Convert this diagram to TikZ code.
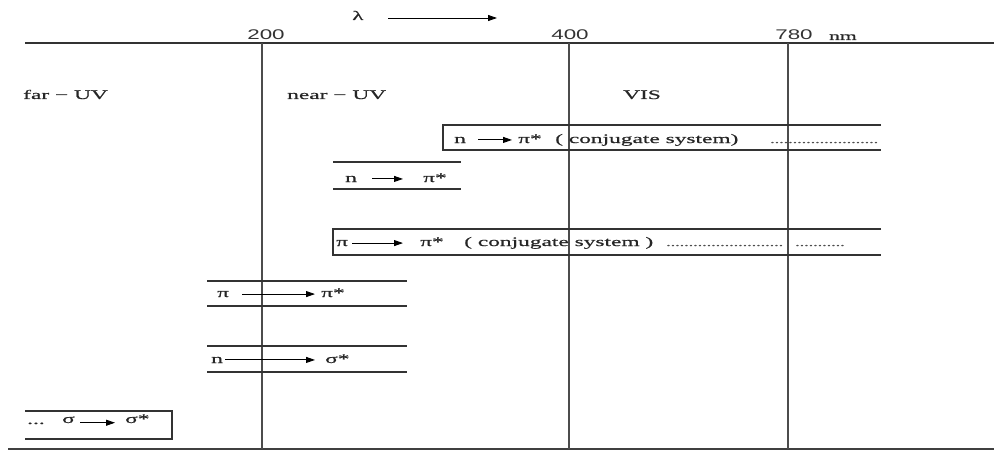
\documentclass[tikz,border=0pt]{standalone}
\usepackage{fontspec}
\setmainfont[FakeStretch=1.8,FakeBold=0.6]{Liberation Serif}
\newfontfamily\ticksans[FakeStretch=1.6]{Liberation Sans}
\usetikzlibrary{arrows.meta,positioning}

\begin{document}
\begin{tikzpicture}[
  x=1pt,y=-1pt,
  font=\fontsize{13}{15}\selectfont,
  lbl/.style={inner sep=0pt,anchor=base west,text=black!85},
  ticklbl/.style={inner sep=0pt,anchor=base,font=\ticksans\fontsize{14}{16}\selectfont,text=black!80},
  band/.style={line width=1.1pt,draw=black!80},
  wlline/.style={line width=1.4pt,draw=black!70},
  trans/.style={-{Triangle[length=9pt,width=6pt]},line width=0.9pt},
  dotrow/.style={inner sep=0pt,anchor=base west,font=\fontsize{10}{12}\selectfont,text=black!70},
]
  \useasboundingbox (0,0) rectangle (994,452);

  % wavelength axis and region borders
  \coordinate (ax0) at (25,43);
  \coordinate (ax1) at (994,43);
  \coordinate (bt0) at (8,449);
  \coordinate (bt1) at (994,449);
  \draw[line width=1.2pt,black!80] (ax0) -- (ax1);
  \draw[line width=2pt,black!75] (bt0) -- (bt1);
  \foreach \wl/\xx in {200/262,400/569,780/788}{
    \coordinate (top\wl) at (\xx,43);
    \coordinate (bot\wl) at (\xx,449);
    \draw[wlline] (top\wl) -- (bot\wl);
  }
  \node[ticklbl] (l200) at (266,40) {200};
  \node[ticklbl] (l400) at (570,40) {400};
  \node[ticklbl] (l780) at (794,40) {780};
  \node[lbl,font=\fontsize{12}{14}\selectfont] (unit) at (829,40) {nm};

  \node[lbl] (lam) at (352,20) {λ};
  \coordinate (lam0) at (388,18);
  \coordinate (lam1) at (497,18);
  \draw[trans] (lam0) -- (lam1);

  \node[lbl] (farUV) at (23,99) {far − UV};
  \node[lbl] (nearUV) at (287,99) {near − UV};
  \node[lbl] (vis) at (623,99) {VIS};

  % n -> pi* (conjugate system)
  \draw[band] (881,125) -- (443,125) -- (443,150) -- (881,150);
  \node[lbl] (b1n) at (454,143) {n};
  \node[lbl] (b1p) at (518,143) {π*};
  \node[lbl] (b1t) at (555,143) {( conjugate system)};
  \node[dotrow] (b1d) at (770,143) {........................};
  \draw[trans,shorten <=12pt,shorten >=6pt] (b1n.east) -- (b1n.east -| b1p.west);

  % n -> pi*
  \draw[band] (333,162) -- (461,162);
  \draw[band] (333,189) -- (461,189);
  \node[lbl] (b2n) at (345,182) {n};
  \node[lbl] (b2p) at (423,182) {π*};
  \draw[trans,shorten <=15pt,shorten >=20pt] (b2n.east) -- (b2n.east -| b2p.west);

  % pi -> pi* (conjugate system)
  \draw[band] (881,229) -- (333,229) -- (333,255) -- (881,255);
  \node[lbl] (b3n) at (336,246) {π};
  \node[lbl] (b3p) at (420,246) {π*};
  \node[lbl] (b3t) at (464,246) {( conjugate system )};
  \node[dotrow] (b3d) at (666,246) {..........................};
  \node[dotrow] (b3e) at (795,246) {...........};
  \draw[trans,shorten <=4pt,shorten >=17pt] (b3n.east) -- (b3n.east -| b3p.west);

  % pi -> pi*
  \draw[band] (207,281) -- (407,281);
  \draw[band] (207,306) -- (407,306);
  \node[lbl] (b4n) at (217,297) {π};
  \node[lbl] (b4p) at (321,297) {π*};
  \draw[trans,shorten <=13pt,shorten >=6pt] (b4n.east) -- (b4n.east -| b4p.west);

  % n -> sigma*
  \draw[band] (207,346) -- (407,346);
  \draw[band] (207,372) -- (407,372);
  \node[lbl] (b5n) at (211,363) {n};
  \node[lbl] (b5p) at (325,363) {σ*};
  \draw[trans,shorten <=2pt,shorten >=10pt] (b5n.east) -- (b5n.east -| b5p.west);

  % sigma -> sigma*
  \draw[band] (25,411) -- (172,411) -- (172,439) -- (25,439);
  \node[lbl] (b6d) at (27,424) {...};
  \node[lbl] (b6n) at (62,423) {σ};
  \node[lbl] (b6p) at (125,423) {σ*};
  \draw[trans,shorten <=5pt,shorten >=10pt] ([yshift=-3pt]b6n.east) -- ([yshift=-3pt]b6n.east -| b6p.west);
\end{tikzpicture}
\end{document}
